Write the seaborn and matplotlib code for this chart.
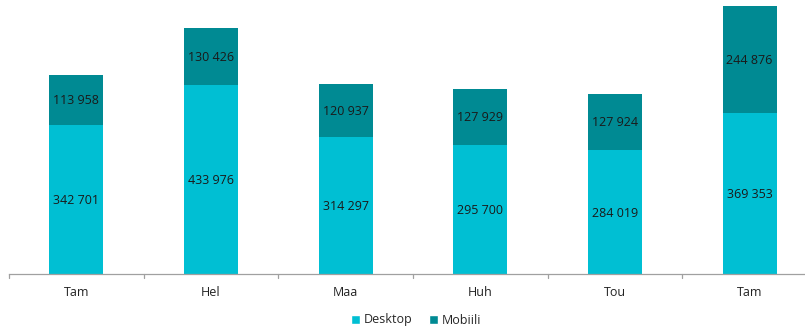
import matplotlib
matplotlib.use("Agg")
import matplotlib.pyplot as plt
import seaborn as sns
import pandas as pd
from matplotlib.patches import Patch

categories = ["Tam", "Hel", "Maa", "Huh", "Tou", "Tam "]
tick_labels = ["Tam", "Hel", "Maa", "Huh", "Tou", "Tam"]
desktop = [342701, 433976, 314297, 295700, 284019, 369353]
mobiili = [113958, 130426, 120937, 127929, 127924, 244876]
series_names = ["Desktop", "Mobiili"]

c_desk = "#00BFD3"
c_mob = "#008A93"

sns.set_theme(style="white")
plt.rcParams["font.family"] = ["Open Sans", "DejaVu Sans"]

df = pd.DataFrame({"cat": categories, "Desktop": desktop, "Mobiili": mobiili})
df["Total"] = df["Desktop"] + df["Mobiili"]

fig = plt.figure(figsize=(8.05, 3.29), dpi=100)
x0 = 9 / 805
w = (817 - 9) / 805
ax = fig.add_axes([x0, 1 - 274 / 329, w, 274 / 329])

sns.barplot(data=df, x="cat", y="Total", color=c_mob, width=0.4, ax=ax,
            saturation=1, linewidth=0)
sns.barplot(data=df, x="cat", y="Desktop", color=c_desk, width=0.4, ax=ax,
            saturation=1, linewidth=0)

ax.set_ylim(0, 628700)
ax.set_xlim(-0.5, len(categories) - 0.5)

for i, (d, m) in enumerate(zip(desktop, mobiili)):
    ax.text(i, d / 2 - 3000, f"{d:,}".replace(",", " "), ha="center", va="center",
            fontsize=9, color="#1a1a1a")
    ax.text(i, d + m / 2 - 1500, f"{m:,}".replace(",", " "), ha="center", va="center",
            fontsize=9, color="#1a1a1a")

ax.set_xlabel("")
ax.set_ylabel("")
ax.set_yticks([])
ax.set_xticks(range(len(categories)))
ax.set_xticklabels(tick_labels, fontsize=9, color="#222222")
ax.tick_params(axis="x", length=0, pad=9)
for b in [i - 0.5 for i in range(len(categories) + 1)]:
    ax.plot([b, b], [0, -9000], color="#a0a0a0", lw=0.9, clip_on=False)
for s in ["top", "right", "left"]:
    ax.spines[s].set_visible(False)
ax.spines["bottom"].set_color("#a0a0a0")
ax.spines["bottom"].set_linewidth(0.9)

handles = [Patch(facecolor=c_desk, label=series_names[0]),
           Patch(facecolor=c_mob, label=series_names[1])]
fig.legend(handles=handles, loc="center", bbox_to_anchor=(416 / 805, 1 - 320 / 329),
           ncol=2, frameon=False, fontsize=9, handlelength=0.7, handleheight=0.7,
           handletextpad=0.3, columnspacing=1.3)

fig.savefig("out.png", dpi=100)
